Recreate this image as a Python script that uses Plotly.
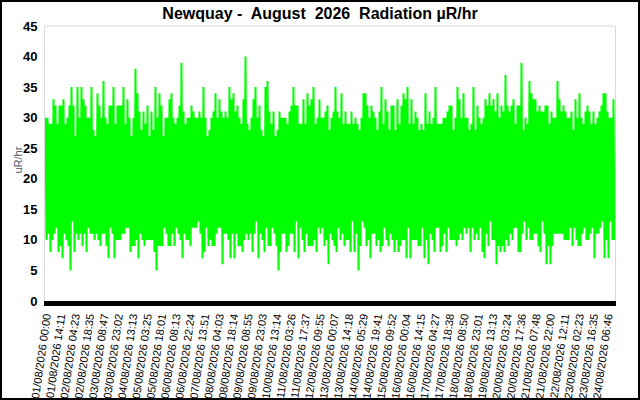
import plotly.graph_objects as go

# Radiation readings (uR/hr), alternating successive peak / trough readings read across the chart
readings = [
    30,10, 30,11, 29,8, 29,10, 33,11, 32,12, 29,8, 32,9, 32,7, 33,11,
    29,10, 30,9, 32,5, 35,13, 32,8, 27,11, 35,10, 30,11, 35,9, 33,11,
    32,8, 30,12, 30,11, 35,11, 28,10, 27,11, 34,10, 32,9, 30,11, 36,11,
    30,9, 29,7, 32,12, 32,11, 35,7, 29,10, 32,10, 32,10, 32,11, 35,11,
    29,12, 33,12, 30,8, 27,9, 30,9, 38,10, 34,7, 31,11, 28,10, 31,9,
    29,10, 32,10, 27,10, 31,10, 28,8, 35,5, 30,9, 34,9, 32,9, 27,12,
    30,11, 30,9, 33,9, 34,11, 30,9, 29,12, 30,11, 32,10, 39,7, 31,11,
    29,10, 30,10, 30,9, 32,12, 31,12, 30,12, 30,13, 31,11, 30,7, 35,8,
    30,12, 27,9, 28,10, 30,9, 31,9, 34,11, 30,12, 33,12, 31,6, 30,11,
    31,11, 30,10, 35,7, 33,11, 34,7, 31,11, 32,9, 30,9,
    29,8, 33,10, 40,11, 29,10, 28,11, 30,8, 33,11, 35,13, 30,7, 32,11,
    28,10, 27,8, 35,12, 36,9, 31,9, 29,12, 31,11, 27,9, 28,5, 31,8,
    30,11, 30,11, 30,8, 29,9, 31,11, 32,11, 35,8, 32,13, 32,7, 29,12,
    29,10, 33,8, 29,11, 34,9, 32,9, 33,9, 35,10, 29,8, 30,12, 33,11,
    30,12, 30,9, 31,10, 32,6, 28,11, 30,10, 31,9, 35,8, 31,12, 30,10,
    34,11, 29,9, 31,10, 29,10, 29,8, 31,13, 29,8, 30,11, 29,5, 28,9,
    30,13, 34,12, 34,9, 32,10, 30,7, 32,11, 31,11, 30,9, 28,10, 31,8,
    35,9, 29,12, 33,10, 31,9, 28,11, 32,10, 32,8, 28,10, 33,8, 29,9,
    32,10, 34,10, 33,7, 35,12, 29,7, 33,10, 29,10, 31,10, 30,9, 28,9,
    29,12, 28,7, 34,10, 29,6, 31,11,
    29,10, 30,8, 35,12, 29,12, 29,8, 29,9, 30,11, 30,8, 31,12, 32,10,
    32,10, 28,10, 30,9, 35,10, 33,11, 30,10, 34,12, 30,11, 30,12, 28,8,
    29,12, 35,10, 28,11, 32,10, 30,12, 29,8, 30,7, 33,11, 32,9, 34,13,
    32,10, 33,10, 31,6, 34,9, 30,8, 32,9, 31,8, 37,10, 32,9, 31,11,
    32,10, 33,12, 29,12, 32,8, 32,8, 39,11, 28,13, 30,10, 29,12, 36,10,
    34,10, 33,11, 33,11, 31,9, 32,8, 31,13, 31,11, 32,6, 32,9, 29,6,
    31,9, 30,11, 30,11, 36,11, 33,11, 31,11, 32,10, 31,10, 30,10, 30,12,
    31,9, 28,12, 33,10, 30,9, 34,9, 30,11, 29,12, 31,10, 32,10, 31,11,
    29,12, 31,7, 29,11, 30,11, 31,12, 32,13, 34,7, 34,10, 31,7, 30,13,
    30,10, 33,10,
]

tick_labels = [
    "01/08/2026 00:00", "01/08/2026 14:11", "02/08/2026 04:23", "02/08/2026 18:35",
    "03/08/2026 08:47", "03/08/2026 23:02", "04/08/2026 13:13", "05/08/2026 03:25",
    "05/08/2026 18:01", "06/08/2026 08:13", "06/08/2026 22:24", "07/08/2026 13:51",
    "08/08/2026 04:03", "08/08/2026 18:14", "09/08/2026 08:55", "09/08/2026 23:03",
    "10/08/2026 13:14", "11/08/2026 03:26", "11/08/2026 17:37", "12/08/2026 09:55",
    "13/08/2026 00:07", "13/08/2026 14:18", "14/08/2026 05:29", "14/08/2026 19:41",
    "15/08/2026 09:52", "16/08/2026 00:04", "16/08/2026 14:15", "17/08/2026 04:27",
    "17/08/2026 18:38", "18/08/2026 08:50", "18/08/2026 23:01", "19/08/2026 13:13",
    "20/08/2026 03:24", "20/08/2026 17:36", "21/08/2026 07:48", "21/08/2026 22:00",
    "22/08/2026 12:11", "23/08/2026 02:23", "23/08/2026 16:35", "24/08/2026 06:46",
]

title_text = "Newquay -\u00a0 August\u00a0 2026\u00a0 Radiation µR/hr"
y_title = "uR/hr"

label_every = 14.4  # readings between labelled points

W, H = 640, 400
ML, MR, MT, MB = 45, 25, 26, 99
PW, PH = W - ML - MR, H - MT - MB

n = len(readings)
xs = list(range(n))

fig = go.Figure(
    go.Scatter(
        x=xs, y=readings, mode="lines",
        line=dict(color="#00ff00", width=2, simplify=False),
        hoverinfo="skip", showlegend=False,
    )
)

font = "Liberation Sans, Arial, sans-serif"

fig.update_layout(
    width=W, height=H,
    margin=dict(l=ML, r=MR, t=MT, b=MB, pad=0, autoexpand=False),
    paper_bgcolor="white", plot_bgcolor="white",
    title=dict(
        text=title_text, x=0.5, xref="container", xanchor="center",
        y=1 - 13 / H, yref="container", yanchor="middle",
        font=dict(family=font, size=16, color="black", weight="bold"),
    ),
    xaxis=dict(
        range=[-0.5, n - 0.5],
        tickvals=[i * label_every for i in range(len(tick_labels))],
        ticktext=tick_labels,
        tickangle=-82,
        tickfont=dict(family=font, size=11, color="black"),
        showline=True, linecolor="black", linewidth=5,
        showgrid=False, zeroline=False, ticks="",
        automargin=False,
    ),
    yaxis=dict(
        range=[0, 45], dtick=5, tick0=0,
        tickfont=dict(family=font, size=13, color="black", weight="bold"),
        showline=True, linecolor="#d9d9d9", linewidth=1, mirror=True,
        showgrid=False, zeroline=False, ticks="",
        ticklabelstandoff=4, automargin=False,
    ),
    shapes=[
        dict(type="line", xref="paper", yref="paper", x0=0, x1=1, y0=1, y1=1,
             line=dict(color="#d9d9d9", width=1)),
        dict(type="rect", xref="paper", yref="paper",
             x0=(-ML + 1) / PW, x1=1 + (MR - 1) / PW,
             y0=(-MB + 1) / PH, y1=1 + (MT - 1) / PH,
             line=dict(color="black", width=2)),
    ],
    annotations=[
        dict(text=y_title, xref="paper", yref="paper", x=0, y=0.5,
             xanchor="center", yanchor="middle", xshift=-28, yshift=3,
             textangle=-90, showarrow=False,
             font=dict(family=font, size=11, color="#595959")),
    ],
)

fig.write_html(
    "out.html",
    config={"displayModeBar": False, "staticPlot": True},
    post_script="document.body.style.margin='0';document.body.style.overflow='hidden';",
)
